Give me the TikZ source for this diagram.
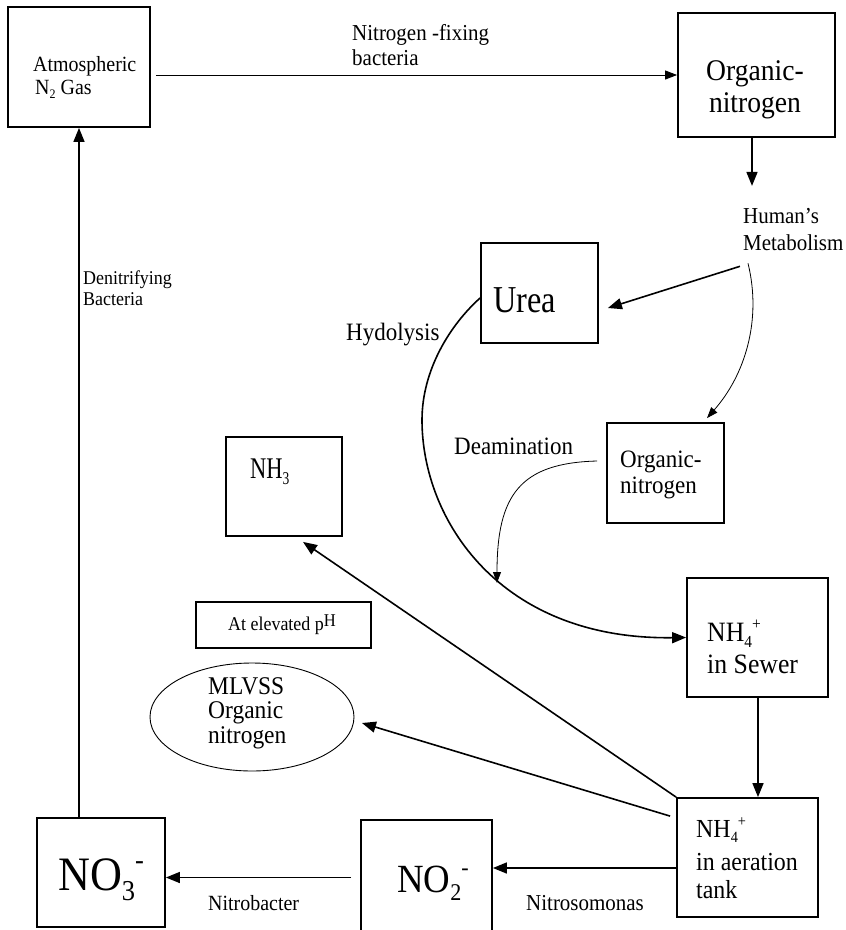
\documentclass[tikz,border=0pt]{standalone}
\usepackage{fontspec}
\setmainfont{Liberation Serif}[FakeStretch=0.92]
\newfontfamily\condA{Liberation Serif}[FakeStretch=0.85]
\newfontfamily\condC{Liberation Serif}[FakeStretch=0.75]
\usetikzlibrary{arrows.meta,calc,shapes.geometric}
\newcommand\lines[1]{\begin{tabular}[t]{@{}l@{}}#1\end{tabular}}
\newcommand\clines[1]{\begin{tabular}[t]{@{}c@{}}#1\end{tabular}}
\newcommand\fs[2]{\fontsize{#1}{#2}\selectfont}
\newcommand\chem[3]{#1\raisebox{-0.22em}{\scalebox{0.6}{#2}}\raisebox{0.42em}{\scalebox{0.6}{#3}}}
\begin{document}
\begin{tikzpicture}[x=1pt,y=-1pt,
  box/.style 2 args={draw, line width=1.8pt, inner sep=0pt, minimum width=#1, minimum height=#2},
  lbl/.style={inner sep=0pt, anchor=base west},
  thickarrow/.style={line width=1.6pt, -{Triangle[length=14pt,width=11pt]}},
  thinarrow/.style={line width=1pt, -{Triangle[length=12pt,width=9pt]}},
  finearrow/.style={line width=0.8pt, -{Triangle[length=11pt,width=8pt]}},
  midarrow/.style={line width=1.4pt, -{Triangle[length=14pt,width=11pt]}},
  hydarrow/.style={line width=1.6pt, -{Triangle[length=14pt,width=11pt]}}]
\fill[white] (0,0) rectangle (846,930);
\useasboundingbox (0,0) rectangle (846,930);

% boxes
\node[box={142pt}{120pt}] (atm) at (79,67) {};
\node[box={157pt}{124pt}] (orgtop) at (756.5,75) {};
\node[box={117pt}{100pt}] (urea) at (539.5,293) {};
\node[box={117pt}{100pt}] (orgmid) at (665.5,473) {};
\node[box={116pt}{99pt}] (nh3) at (284,486.5) {};
\node[box={175pt}{46pt}] (ph) at (283.5,625) {};
\node[draw, line width=0.9pt, ellipse, inner sep=0pt, minimum width=204pt, minimum height=108pt] (mlvss) at (252,717) {};
\node[box={141pt}{119pt}] (sewer) at (757.5,637.5) {};
\node[box={141pt}{119pt}] (aer) at (747.5,857.5) {};
\node[box={131pt}{115pt}] (no2) at (426.5,877.5) {};
\node[box={128pt}{109pt}] (no3) at (101,872.5) {};

% texts
\node[lbl] (tatm) at (33,71) {\fs{21.7}{23}\lines{Atmospheric\\\hspace{2pt}\chem{N}{2}{} Gas}};
\node[lbl] (tfix) at (352,40) {\fs{22.8}{25}\lines{Nitrogen -fixing\\bacteria}};
\node[lbl, anchor=base] (torg) at (755,80) {\fs{30}{32}\clines{Organic-\\nitrogen}};
\node[lbl] (hm) at (743,223) {\fs{22.8}{27}\lines{Human's\\Metabolism}};
\node[lbl] (turea) at (493,312) {\fs{38}{40}\condA Urea};
\node[lbl] (thyd) at (346,340) {\fs{25}{26}Hydolysis};
\node[lbl] (tdeam) at (454,454) {\fs{25}{26}Deamination};
\node[lbl] (torgmid) at (620,467) {\fs{25}{26}\lines{Organic-\\nitrogen}};
\node[lbl] (tnh3) at (250,478) {\fs{30}{30}\condC\chem{NH}{3}{}};
\node[lbl] (tph) at (228,630) {\fs{19.5}{20}At elevated p\raisebox{4pt}{\fs{18}{20}H}};
\node[lbl] (tmlvss) at (208,694) {\fs{25.5}{24.5}\lines{MLVSS\\Organic\\nitrogen}};
\node[lbl] (tsewer) at (707,641) {\fs{28}{32}\lines{\chem{NH}{4}{+}\\in Sewer}};
\node[lbl] (taer) at (696,837) {\fs{26}{28}\lines{\chem{NH}{4}{+}\\[5pt]in aeration\\tank}};
\node[lbl] (tno2) at (397,892) {\fs{40}{40}\chem{NO}{2}{-}};
\node[lbl] (tno3) at (58,890) {\fs{48}{46}\chem{NO}{3}{-}};
\node[lbl] (tnb) at (208,910) {\fs{21.7}{22}Nitrobacter};
\node[lbl] (tns) at (526,910) {\fs{22.8}{24}Nitrosomonas};
\node[lbl] (tden) at (83,284) {\fs{19.5}{21}\lines{Denitrifying\\Bacteria}};

\coordinate (deamEnd) at (497,583);

% connectors
\draw[thinarrow] ([xshift=5pt]atm.east |- orgtop.west) -- (orgtop.west);
\draw[thickarrow, shorten >=18pt] ([xshift=-4.5pt]orgtop.south) -- ([xshift=-4.5pt]orgtop.south |- hm.north);
\draw[thickarrow] ([shift={(-3pt,-8pt)}]hm.south west) -- ([shift={(9pt,-15pt)}]urea.east);
\draw[finearrow] ([shift={(5pt,-5pt)}]hm.south west) .. controls (762,320) and (745,375) .. ([shift={(41.5pt,4pt)}]orgmid.north);
\draw[hydarrow] ([yshift=-5pt]urea.west) .. controls (450,325) and (422,370) .. (422,420) .. controls (422,520) and (500,640) .. (sewer.west);
\draw[finearrow] ([shift={(-9pt,12pt)}]orgmid.west) .. controls (520,463) and (497,495) .. (deamEnd);
\draw[thickarrow] ([xshift=0.5pt]sewer.south) -- ([xshift=0.5pt]sewer.south |- aer.north);
\draw[thickarrow] (aer.north west) -- ([shift={(19pt,-5pt)}]nh3.south);
\draw[thickarrow] ([shift={(-6pt,-19pt)}]aer.north west) -- ([shift={(7.5pt,-6pt)}]mlvss.east);
\draw[thickarrow] ([yshift=-10.5pt]aer.west) -- ([yshift=-10.5pt]aer.west -| no2.east);
\draw[thickarrow] ([xshift=-9pt]no2.west) -- (no2.west -| no3.east);
\draw[midarrow] (atm.south |- no3.north) -- (atm.south);
\end{tikzpicture}
\end{document}
